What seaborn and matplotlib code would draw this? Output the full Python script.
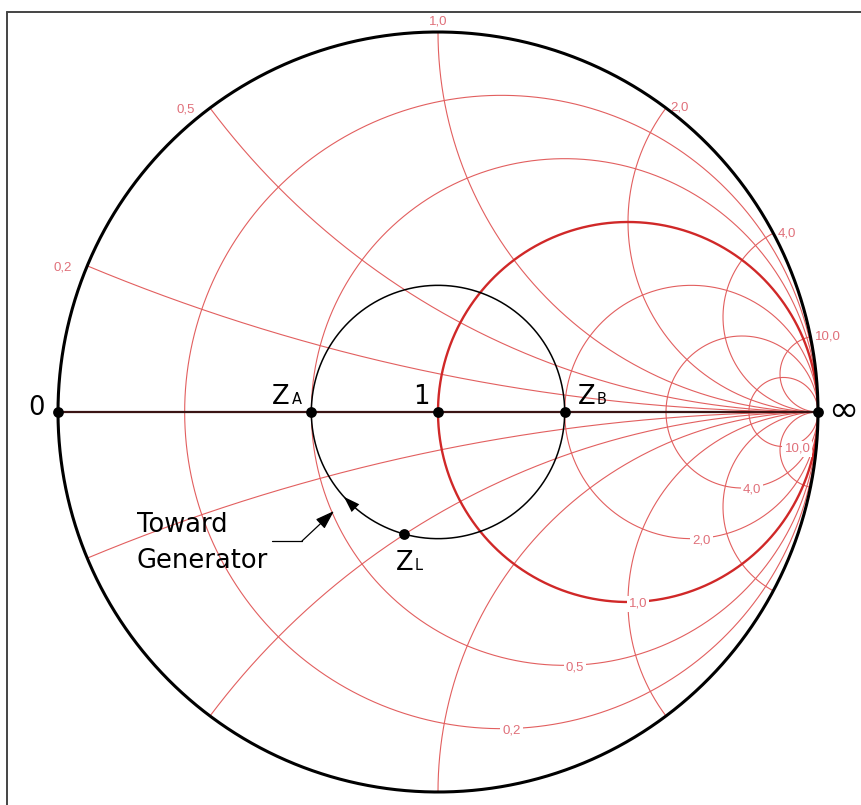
import numpy as np
import pandas as pd
import matplotlib
matplotlib.use("Agg")
import matplotlib.pyplot as plt
from matplotlib.lines import Line2D
import seaborn as sns

# Normalized grid values of the Smith chart
resistance_values = [0.2, 0.5, 1.0, 2.0, 4.0, 10.0]
reactance_values = [0.2, 0.5, 1.0, 2.0, 4.0, 10.0]

# Marked points (normalized impedances); VSWR = 2 circle through the load
point_labels = ["0", "Z_A", "1", "Z_B", "inf", "Z_L"]
point_impedances = [0.0, 0.5, 1.0, 2.0, np.inf, 0.69 - 0.5j]
vswr = 2.0

RED = "#e25f5f"
RED_DARK = "#d02828"
LABEL_RED = "#e0707a"
SMALL_FONT = ["Liberation Sans", "DejaVu Sans"]


def gamma(z):
    """Reflection coefficient of a normalized impedance."""
    z = np.asarray(z, dtype=complex)
    with np.errstate(invalid="ignore", divide="ignore"):
        g = (z - 1) / (z + 1)
    return np.where(np.isinf(z), 1.0 + 0j, g)


def fmt(v):
    return f"{v:.1f}".replace(".", ",")


sns.set_theme(style="white")
plt.rcParams["font.family"] = ["DejaVu Sans"]
plt.rcParams["text.color"] = "black"

fig = plt.figure(figsize=(8.61, 8.05), dpi=100)
ax = fig.add_axes([0, 0, 1, 1])
scale = 380.0
ax.set_xlim(-438 / scale, 423 / scale)
ax.set_ylim(-393 / scale, 412 / scale)
ax.axis("off")


def curve(g, color, lw, z):
    df = pd.DataFrame({"re": np.real(g), "im": np.imag(g)})
    sns.lineplot(data=df, x="re", y="im", sort=False, estimator=None,
                 color=color, linewidth=lw, ax=ax, zorder=z)


# Constant-resistance circles, labelled at their lowest point
theta = np.linspace(0, 2 * np.pi, 1500)
for r in resistance_values:
    c, rad = r / (1 + r), 1 / (1 + r)
    g = c + rad * np.exp(1j * theta)
    thick = r == 1.0
    curve(g, RED_DARK if thick else RED, 1.7 if thick else 0.8, 2 if thick else 1)
    ax.annotate(fmt(r), xy=(c, -rad), xytext=(1, -2), textcoords="offset pixels",
                ha="left", va="center", fontsize=9.5, family=SMALL_FONT,
                color=LABEL_RED, zorder=4,
                bbox=dict(boxstyle="square,pad=0.15", fc="white", ec="none"))

# Constant-reactance arcs (upper and lower half), labelled on the rim
phi = np.linspace(0, np.pi / 2 - 1e-4, 1500)
for x in reactance_values:
    for sgn in (1, -1):
        g = gamma(np.tan(phi) + 1j * sgn * x)
        curve(g, RED, 0.8, 1)
    gt = complex(gamma(1j * x))
    if abs(gt.real) < 0.1:
        ha, off = "center", (0, 10)
    elif gt.real < 0:
        ha, off = "right", (-15, -2)
    else:
        ha, off = "left", (4, 0)
    ax.annotate(fmt(x), xy=(gt.real, gt.imag), xytext=off, textcoords="offset pixels",
                ha=ha, va="center", fontsize=9.5, family=SMALL_FONT, color=LABEL_RED)

# Outer |Gamma| = 1 circle and real axis
curve(np.exp(1j * theta), "black", 2.2, 3)
curve(gamma(np.array([0.0, np.inf])), "#3a1414", 1.6, 3)

# VSWR circle
rho = (vswr - 1) / (vswr + 1)
curve(rho * np.exp(1j * theta), "black", 1.1, 3)

# Direction arrow on the VSWR circle (clockwise = toward generator)
a_tip, a_tail = np.deg2rad(222), np.deg2rad(229)
ax.annotate("", xy=(rho * np.cos(a_tip), rho * np.sin(a_tip)),
            xytext=(rho * np.cos(a_tail), rho * np.sin(a_tail)),
            arrowprops=dict(arrowstyle="-|>,head_length=0.9,head_width=0.3",
                            color="black", lw=0, mutation_scale=13,
                            shrinkA=0, shrinkB=0), zorder=5)

# Points
gp = gamma(np.array(point_impedances))
pts = pd.DataFrame({"re": gp.real, "im": gp.imag, "name": point_labels})
sns.scatterplot(data=pts, x="re", y="im", color="black", s=60,
                edgecolor="black", linewidth=0, ax=ax, zorder=6, legend=False)

big = 18.5
sub = 10.5
lookup = dict(zip(point_labels, gp))


def label(name, text, dx, dy, size=big, ha="left", va="baseline"):
    g = lookup[name]
    ax.annotate(text, xy=(g.real, g.imag), xytext=(dx, dy), textcoords="offset pixels",
                fontsize=size, ha=ha, va=va, color="black", zorder=7)


label("0", "0", -21, 4, ha="center", va="center")
label("1", "1", -17, 8, ha="center")
label("inf", "∞", 25, 1, size=26, ha="center", va="center")
label("Z_A", "Z", -39, 8)
label("Z_A", "A", -19, 8, size=sub)
label("Z_B", "Z", 13, 8)
label("Z_B", "B", 32, 8, size=sub)
label("Z_L", "Z", -9, -36)
label("Z_L", "L", 10, -36, size=sub)


def px(xp, yp):
    return ((xp - 438) / scale, (412 - yp) / scale)


ax.text(*px(137, 532), "Toward", fontsize=big, ha="left", va="baseline")
ax.text(*px(137, 568), "Generator", fontsize=big, ha="left", va="baseline")
lx, ly = zip(px(272, 541), px(302, 541))
ax.plot(lx, ly, color="black", lw=0.9)
ax.annotate("", xy=px(334, 511), xytext=px(302, 541),
            arrowprops=dict(arrowstyle="-|>,head_length=0.9,head_width=0.3",
                            color="black", lw=0.9, mutation_scale=13,
                            shrinkA=0, shrinkB=0))

# Frame
W, H = 861, 805
fig.add_artist(Line2D([7 / W, 7 / W], [0, 1 - 12 / H], color="#444444", lw=1.4))
fig.add_artist(Line2D([7 / W, 1], [1 - 12 / H, 1 - 12 / H], color="#444444", lw=1.4))

fig.savefig("out.png", dpi=100, facecolor="white")
